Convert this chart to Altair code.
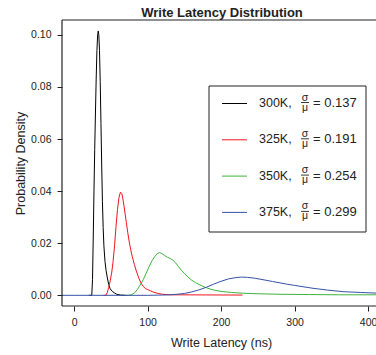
import altair as alt
import pandas as pd

# ---- data ----
x_300 = [20, 24, 25, 26, 27, 28, 29, 30, 31, 32, 32.8, 33.6, 34.5, 35.5, 36.5, 37.5, 38.5, 39.5, 40.5, 42, 43.5, 45, 47, 49, 52, 55, 58, 63, 70]
y_300 = [0, 0, 0.006, 0.022, 0.040, 0.056, 0.070, 0.083, 0.094, 0.100, 0.1015, 0.100, 0.094, 0.082, 0.066, 0.050, 0.036, 0.026, 0.019, 0.013, 0.0095, 0.0070, 0.0042, 0.0025, 0.0015, 0.0009, 0.0004, 0.0001, 0]

x_325 = [40, 43, 45, 47, 49, 51, 53, 55, 57, 59, 61, 63, 65, 67, 69, 71, 73, 75, 77, 79, 82, 85, 88, 91, 94, 97, 100, 104, 108, 113, 120, 130, 229]
y_325 = [0, 0, 0.001, 0.003, 0.0055, 0.0085, 0.013, 0.019, 0.0265, 0.033, 0.0375, 0.0396, 0.039, 0.036, 0.032, 0.028, 0.024, 0.0205, 0.0175, 0.015, 0.0118, 0.0090, 0.0066, 0.0047, 0.0034, 0.0026, 0.0022, 0.0017, 0.0012, 0.0008, 0.0004, 0.0002, 0.0001]

x_350 = [70, 74, 78, 82, 86, 90, 94, 98, 102, 106, 110, 113, 116, 119, 123, 127, 131, 134, 138, 142, 146, 150, 155, 160, 165, 171, 178, 185, 192, 200, 214, 230, 250, 280, 320, 360, 415]
y_350 = [0, 0, 0.0003, 0.0009, 0.0022, 0.0040, 0.0060, 0.0085, 0.0110, 0.0133, 0.0150, 0.0160, 0.0164, 0.0161, 0.0153, 0.0146, 0.0141, 0.0136, 0.0125, 0.0110, 0.0096, 0.0084, 0.0070, 0.0058, 0.0049, 0.0040, 0.0031, 0.0024, 0.0019, 0.0015, 0.0011, 0.0008, 0.0006, 0.0004, 0.0003, 0.0002, 0.0002]

x_375 = [-20, 0, 100, 120, 130, 140, 150, 160, 170, 180, 190, 200, 210, 220, 228, 236, 245, 257, 270, 289, 300, 325, 345, 366, 390, 415]
y_375 = [0, 0, 0, 0.0001, 0.0002, 0.0004, 0.0007, 0.0013, 0.0021, 0.0031, 0.0043, 0.0054, 0.0063, 0.0068, 0.0070, 0.0069, 0.0066, 0.0060, 0.0053, 0.0043, 0.0038, 0.0027, 0.0020, 0.0014, 0.0011, 0.0008]

series = ["300K", "325K", "350K", "375K"]
cv_values = ["0.137", "0.191", "0.254", "0.299"]
colors = ["#000000", "#F0141E", "#3CB43C", "#3552A8"]

x_ticks = [0, 100, 200, 300, 400]
y_ticks = [0.00, 0.02, 0.04, 0.06, 0.08, 0.10]

title_text = "Write Latency Distribution"

# ---- layout ----
FONT = "Liberation Sans"
W, H = 314, 286
PAD_L, PAD_T = 62, 20
X_DOMAIN = [-16.5, 410.7]
Y_DOMAIN = [-0.0041, 0.1057]

xs = [x_300, x_325, x_350, x_375]
ys = [y_300, y_325, y_350, y_375]
rows = []
for s, xv, yv in zip(series, xs, ys):
    for a, b in zip(xv, yv):
        rows.append({"series": s, "x": a, "y": b})
df = pd.DataFrame(rows)

xscale = alt.Scale(domain=X_DOMAIN, nice=False, zero=False)
yscale = alt.Scale(domain=Y_DOMAIN, nice=False, zero=False)
color_scale = alt.Scale(domain=series, range=colors)

x_axis = alt.Axis(values=x_ticks, format="d", grid=False, domain=False, tickSize=5,
                  tickColor="#222", labelColor="#222", labelFontSize=10.5, labelFont=FONT,
                  labelPadding=6, title="Write Latency (ns)", titleFont=FONT, titleFontSize=12.5,
                  titleFontWeight="normal", titleColor="#222", titleX=159, titleY=40,
                  titleBaseline="alphabetic", titleAnchor="middle", titleAlign="center",
                  labelFlush=False, labelOverlap=False)
y_axis = alt.Axis(values=y_ticks, format=".2f", grid=False, domain=False, tickSize=5,
                  tickColor="#222", labelColor="#222", labelFontSize=10.5, labelFont=FONT,
                  labelPadding=6, title="Probability Density", titleFont=FONT, titleFontSize=12.5,
                  titleFontWeight="normal", titleColor="#222", titleX=-38, titleY=H / 2,
                  titleBaseline="alphabetic", titleAngle=270, titleAlign="center",
                  labelFlush=False, labelOverlap=False)

layers = []
for i, s in enumerate(series):
    enc = dict(
        x=alt.X("x:Q", scale=xscale, axis=x_axis if i == 0 else None),
        y=alt.Y("y:Q", scale=yscale, axis=y_axis if i == 0 else None),
        color=alt.Color("series:N", scale=color_scale, legend=None),
    )
    layers.append(
        alt.Chart(df).transform_filter(alt.datum.series == s)
        .mark_line(strokeWidth=1, clip=True).encode(**enc)
    )

# ---- plot frame (left, top, bottom; right side is cut by the window) ----
one = pd.DataFrame({"k": [0]})
frame = [
    alt.Chart(one).mark_rule(color="#222", strokeWidth=1.2).encode(x=alt.value(0), x2=alt.value(W), y=alt.value(0)),
    alt.Chart(one).mark_rule(color="#222", strokeWidth=1.2).encode(x=alt.value(0), x2=alt.value(W), y=alt.value(H)),
    alt.Chart(one).mark_rule(color="#222", strokeWidth=1.2).encode(x=alt.value(0), y=alt.value(0), y2=alt.value(H)),
]

# ---- title as text ----
title = alt.Chart(pd.DataFrame({"t": [title_text]})).mark_text(
    font=FONT, fontSize=13, fontWeight="bold", color="#222", align="center", baseline="alphabetic"
).encode(x=alt.value(160), y=alt.value(-3), text="t:N")

# ---- legend drawn as marks ----
LX0, LX1, LY0, LY1 = 209 - PAD_L, 366 - PAD_L, 86 - PAD_T, 232 - PAD_T
box = alt.Chart(one).mark_rect(fill="white", stroke="#222", strokeWidth=1).encode(
    x=alt.value(LX0), x2=alt.value(LX1), y=alt.value(LY0), y2=alt.value(LY1))

leg = pd.DataFrame({
    "series": series,
    "cv": cv_values,
    "color": colors,
})
leg["row"] = range(len(series))
leg["yc"] = 103.5 - PAD_T + 36.3 * leg["row"]
leg["seg_x1"] = 222 - PAD_L
leg["seg_x2"] = 247 - PAD_L
leg["lab_x"] = 259 - PAD_L
leg["frac_x"] = 305 - PAD_L
leg["bar_x1"] = 301 - PAD_L
leg["bar_x2"] = 309 - PAD_L
leg["eq_x"] = 313 - PAD_L
leg["lab"] = leg["series"] + ","
leg["eqtxt"] = "= " + leg["cv"]
leg["sig_y"] = leg["yc"] - 3
leg["mu_y"] = leg["yc"] + 7
leg["bar_y"] = leg["yc"] - 1
leg["txt_y"] = leg["yc"] - 0.5
leg["sig"] = "σ"
leg["mu"] = "μ"

lb = alt.Chart(leg)
px = lambda f: alt.X(f + ":Q", scale=None, axis=None)
py = lambda f: alt.Y(f + ":Q", scale=None, axis=None)
legend_layers = [
    box,
    lb.mark_rule(strokeWidth=1).encode(x=px("seg_x1"), x2="seg_x2:Q", y=py("yc"),
                                       color=alt.Color("color:N", scale=None)),
    lb.mark_text(align="left", baseline="middle", font=FONT, fontSize=12.5, color="#222").encode(
        x=px("lab_x"), y=py("txt_y"), text="lab:N"),
    lb.mark_text(align="center", baseline="alphabetic", font=FONT, fontSize=10.5, color="#222").encode(
        x=px("frac_x"), y=py("sig_y"), text="sig:N"),
    lb.mark_text(align="center", baseline="alphabetic", font=FONT, fontSize=10.5, color="#222").encode(
        x=px("frac_x"), y=py("mu_y"), text="mu:N"),
    lb.mark_rule(strokeWidth=0.9, color="#222").encode(x=px("bar_x1"), x2="bar_x2:Q", y=py("bar_y")),
    lb.mark_text(align="left", baseline="middle", font=FONT, fontSize=13, color="#222").encode(
        x=px("eq_x"), y=py("txt_y"), text="eqtxt:N"),
]

chart = alt.layer(*layers, *frame, title, *legend_layers).properties(
    width=W, height=H,
    autosize=alt.AutoSizeParams(type="none"),
    padding={"left": PAD_L, "top": PAD_T, "right": 0, "bottom": 355 - PAD_T - H},
).resolve_scale(x="independent", y="independent", color="independent").configure_view(stroke=None)

chart.save("out.html", embed_options={"renderer": "svg", "actions": False})
